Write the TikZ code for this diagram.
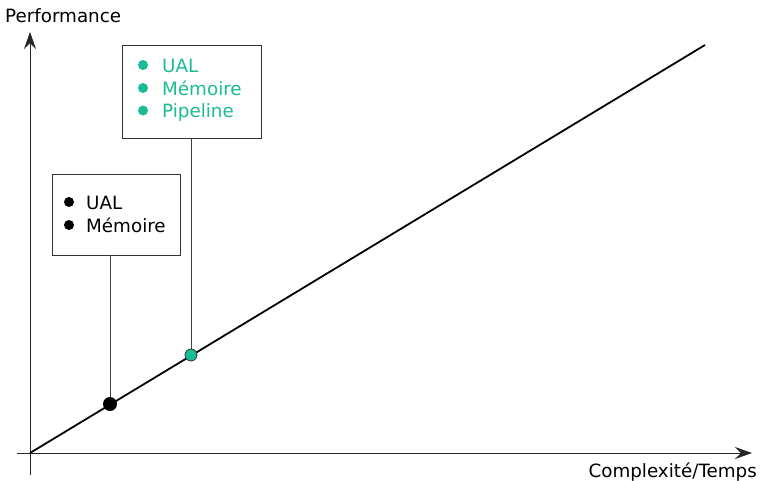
\documentclass[tikz,border=0pt]{standalone}
\usepackage{fontspec}
\setmainfont{DejaVu Sans}
\usetikzlibrary{arrows.meta}
\definecolor{tealpt}{RGB}{26,188,150}
\begin{document}
\begin{tikzpicture}[x=1pt,y=-1pt,
  axis/.style={draw=black!85, line width=0.9pt, -{Stealth[length=17pt,width=12pt,inset=6pt]}},
  trend/.style={line width=1.8pt},
  leader/.style={draw=black!75, line width=0.8pt},
  infobox/.style={draw=black!80, line width=0.9pt, fill=white},
  lbl/.style={font=\fontsize{18.3}{22}\selectfont, inner sep=0pt},
  dotmark/.style={circle, inner sep=0pt, minimum size=#1}]
\useasboundingbox (0,0) rectangle (761,480);
% axes
\coordinate (yb) at (30,475);
\coordinate (yt) at (30,32);
\coordinate (xl) at (17,453);
\coordinate (xr) at (752,453);
\draw[axis] (yb) -- (yt);
\draw[axis] (xl) -- (xr);
\node[lbl, anchor=base west] (ylab) at (5,22) {Performance};
\node[lbl, anchor=base east] (xlab) at (757,477) {Complexité/Temps};
% trend line
\coordinate (o) at (30,453);
\coordinate (e) at (705,45);
\draw[trend] (o) -- (e);
% info boxes
\node[infobox, minimum width=128pt, minimum height=81pt] (b1) at (116,214.5) {};
\node[infobox, minimum width=139pt, minimum height=93pt] (b2) at (191.5,91.5) {};
% markers on the line
\node[dotmark=14pt, fill=black] (p1) at (110,404) {};
\node[dotmark=12pt, fill=tealpt, draw=black!80, line width=0.8pt] (p2) at (191,355) {};
\draw[leader] (b1.south -| p1) -- (p1);
\draw[leader] (b2.south -| p2) -- (p2);
% box contents
\foreach \t/\y [count=\i] in {UAL/202,Mémoire/225}{
  \node[dotmark=10pt, fill=black] (d1\i) at (69,\y) {};
  \node[lbl, anchor=base west] (t1\i) at (86,\y+7) {\t};
}
\foreach \t/\y [count=\i] in {UAL/65,Mémoire/88,Pipeline/110.5}{
  \node[dotmark=10pt, fill=tealpt] (d2\i) at (143,\y) {};
  \node[lbl, anchor=base west, text=tealpt] (t2\i) at (162,\y+7) {\t};
}
\end{tikzpicture}
\end{document}
